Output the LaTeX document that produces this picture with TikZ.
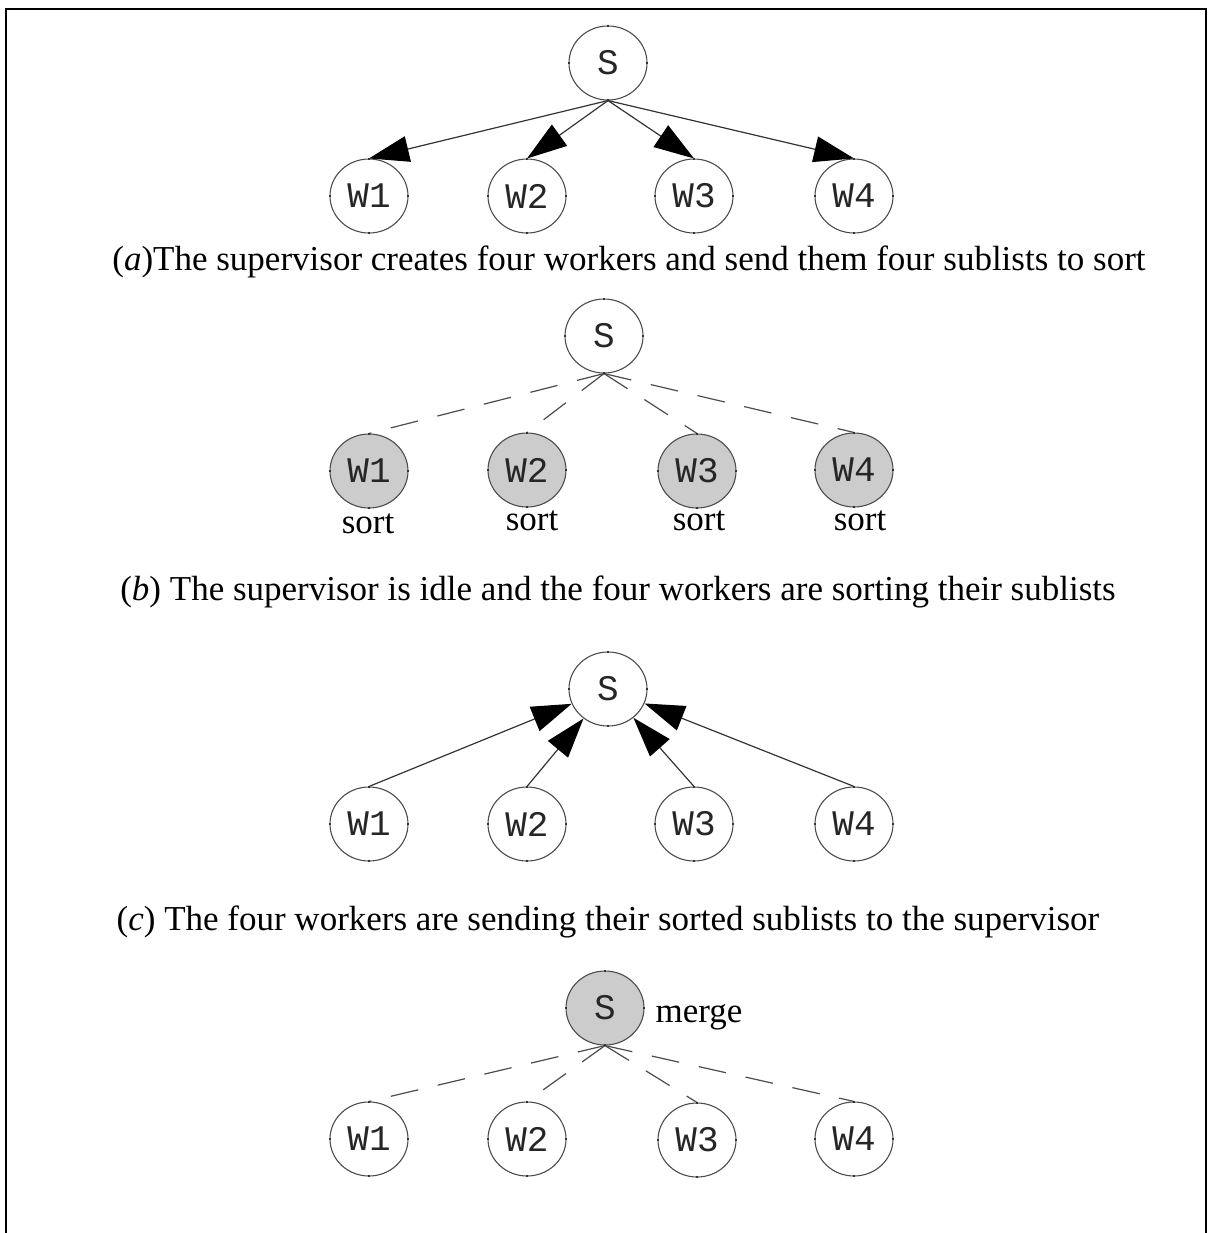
\documentclass[tikz,border=0pt]{standalone}
\usepackage{fontspec}
\setmainfont{Liberation Serif}
\setmonofont{Liberation Mono}
\usetikzlibrary{arrows.meta,shapes.geometric}
\begin{document}
\begin{tikzpicture}[x=0.5pt,y=-0.5pt,
  proc/.style={ellipse,draw=black!70,line width=0.55pt,minimum width=39pt,minimum height=37pt,inner sep=0pt,text=black!85,font=\ttfamily\fontsize{18}{18}\selectfont},
  busy/.style={proc,fill=black!20},
  msg/.style={draw=black!80,line width=0.6pt,-{Triangle[length=20pt,width=13pt,color=black]}},
  idle/.style={draw=black!70,line width=0.6pt,dash pattern=on 14pt off 10pt},
  captext/.style={font=\fontsize{17.5}{20}\selectfont,inner sep=0pt,anchor=base},
  porttick/.style={draw=black!80,line width=0.6pt}]
\useasboundingbox (0,0) rectangle (1207,1233);
% frame (open at the bottom)
\draw[line width=1.1pt] (6,1233) -- (6,9) -- (1206,9) -- (1206,1233);

% ---------- (a)
\node[proc] (Sa) at (608,63) {S};
\node[proc] (Wa1) at (369,196) {W1};
\node[proc] (Wa2) at (527,196) {W2};
\node[proc] (Wa3) at (694,196) {W3};
\node[proc] (Wa4) at (854,196) {W4};
\foreach \i in {1,...,4} \draw[msg] (Sa.south) -- (Wa\i.north);
\node[captext] (Ca) at (629,270) {(\textit{a})The supervisor creates four workers and send them four sublists to sort};

% ---------- (b)
\node[proc] (Sb) at (604,336) {S};
\node[busy] (Wb1) at (369,471) {W1};
\node[busy] (Wb2) at (527,470) {W2};
\node[busy] (Wb3) at (697,471) {W3};
\node[busy] (Wb4) at (854,470) {W4};
\foreach \i in {1,...,4} \draw[idle] (Sb.south) -- (Wb\i.north);
\node[captext] (sb1) at (368,533) {sort};
\node[captext] (sb2) at (532,530) {sort};
\node[captext] (sb3) at (699,530) {sort};
\node[captext] (sb4) at (860,530) {sort};
\node[captext] (Cb) at (618,600) {(\textit{b}) The supervisor is idle and the four workers are sorting their sublists};

% ---------- (c)
\node[proc] (Sc) at (608,689) {S};
\node[proc] (Wc1) at (369,824) {W1};
\node[proc] (Wc2) at (527,824) {W2};
\node[proc] (Wc3) at (694,824) {W3};
\node[proc] (Wc4) at (854,824) {W4};
\foreach \i in {1,...,4} \draw[msg] (Wc\i.north) -- (Sc);
\node[captext] (Cc) at (608,930) {(\textit{c}) The four workers are sending their sorted sublists to the supervisor};

% ---------- (d)
\node[busy] (Sd) at (605,1008) {S};
\node[captext] (md) at (699,1022) {merge};
\node[proc] (Wd1) at (369,1139) {W1};
\node[proc] (Wd2) at (527,1139) {W2};
\node[proc] (Wd3) at (697,1140) {W3};
\node[proc] (Wd4) at (854,1139) {W4};
\foreach \i in {1,...,4} \draw[idle] (Sd.south) -- (Wd\i.north);

% tiny port ticks on the circles
\foreach \n in {Sa,Wa1,Wa2,Wa3,Wa4,Sb,Wb1,Wb2,Wb3,Wb4,Sc,Wc1,Wc2,Wc3,Wc4,Sd,Wd1,Wd2,Wd3,Wd4}{
  \draw[porttick] (\n.north) -- ++(0,2);
  \draw[porttick] (\n.south) -- ++(0,-2);
  \draw[porttick] (\n.east) -- ++(-2,0);
  \draw[porttick] (\n.west) -- ++(2,0);
}
\end{tikzpicture}
\end{document}
